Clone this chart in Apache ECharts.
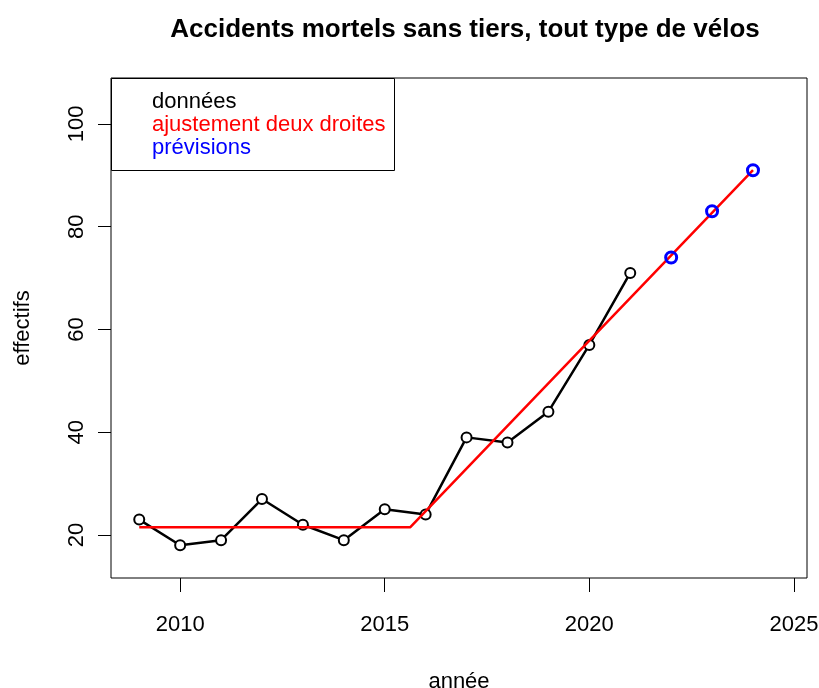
<!DOCTYPE html>
<html>
<head>
<meta charset="utf-8">
<script src="https://cdn.jsdelivr.net/npm/echarts@6/dist/echarts.min.js"></script>
<style>
  html, body { margin: 0; padding: 0; background: #fff; }
  #main { width: 819px; height: 688px; }
</style>
</head>
<body>
<div id="main"></div>
<script>
// observed data
var years = [2009, 2010, 2011, 2012, 2013, 2014, 2015, 2016, 2017, 2018, 2019, 2020, 2021];
var counts = [23, 18, 19, 27, 22, 19, 25, 24, 39, 38, 44, 57, 71];

// two-line fit (flat then rising)
var fitYears = [2009, 2015.62, 2024];
var fitValues = [21.5, 21.5, 91];

// forecasts
var forecastYears = [2022, 2023, 2024];
var forecastValues = [74, 83, 91];

var xTicks = [2010, 2015, 2020, 2025];
var yTicks = [20, 40, 60, 80, 100];

var font = '"Liberation Sans", Arial, sans-serif';

var chart = echarts.init(document.getElementById('main'));

var option = {
    animation: false,
    title: {
        text: 'Accidents mortels sans tiers, tout type de vélos',
        left: 460,
        top: 12,
        textAlign: 'center',
        textStyle: { fontFamily: font, fontSize: 26, fontWeight: 'bold', color: '#000' }
    },
    legend: {
        orient: 'vertical',
        left: 147,
        top: 90,
        icon: 'none',
        itemWidth: 0,
        itemHeight: 10,
        itemGap: 0,
        padding: 0,
        selectedMode: false,
        textStyle: { fontFamily: font, fontSize: 22, lineHeight: 23 },
        data: [
            { name: 'données', textStyle: { color: '#000' } },
            { name: 'ajustement deux droites', textStyle: { color: '#ff0000' } },
            { name: 'prévisions', textStyle: { color: '#0000ff' } }
        ]
    },
    graphic: [{
        type: 'rect',
        shape: { x: 111.5, y: 78.5, width: 283, height: 92 },
        style: { fill: '#fff', stroke: '#000', lineWidth: 1 },
        z: 1
    }],
    grid: {
        left: 111, right: 12, top: 78, bottom: 110,
        outerBoundsMode: 'none',
        containLabel: false,
        show: true, borderColor: '#000', borderWidth: 1, backgroundColor: '#fff'
    },
    xAxis: {
        type: 'value',
        min: 2008.31,
        max: 2025.32,
        name: 'année',
        nameLocation: 'middle',
        nameGap: 93,
        nameTextStyle: { fontFamily: font, fontSize: 22, color: '#000' },
        splitLine: { show: false },
        axisLine: { show: false },
        axisTick: { show: true, length: 14, customValues: xTicks, lineStyle: { color: '#000' } },
        axisLabel: {
            customValues: xTicks,
            margin: 36,
            fontFamily: font, fontSize: 22, color: '#000',
            formatter: function (v) { return String(v); }
        }
    },
    yAxis: {
        type: 'value',
        min: 11.63,
        max: 108.95,
        name: 'effectifs',
        nameLocation: 'middle',
        nameRotate: 90,
        nameGap: 77,
        nameTextStyle: { fontFamily: font, fontSize: 22, color: '#000' },
        splitLine: { show: false },
        axisLine: { show: false },
        axisTick: { show: true, length: 13, customValues: yTicks, lineStyle: { color: '#000' } },
        axisLabel: {
            customValues: yTicks,
            rotate: 90,
            margin: 23,
            fontFamily: font, fontSize: 22, color: '#000',
            formatter: function (v) { return String(v); }
        }
    },
    series: [
        {
            name: 'données',
            type: 'line',
            data: years.map(function (y, i) { return [y, counts[i]]; }),
            symbol: 'emptyCircle',
            symbolSize: 10,
            showAllSymbol: true,
            lineStyle: { color: '#000', width: 2.5 },
            itemStyle: { color: '#000', borderColor: '#222', borderWidth: 1 },
            z: 3
        },
        {
            name: 'ajustement deux droites',
            type: 'line',
            data: fitYears.map(function (y, i) { return [y, fitValues[i]]; }),
            symbol: 'none',
            lineStyle: { color: '#ff0000', width: 2.5 },
            itemStyle: { color: '#ff0000' },
            z: 4
        },
        {
            name: 'prévisions',
            type: 'scatter',
            data: forecastYears.map(function (y, i) { return [y, forecastValues[i]]; }),
            symbol: 'circle',
            symbolSize: 11,
            itemStyle: { color: 'rgba(0,0,0,0)', borderColor: '#0000ff', borderWidth: 3, opacity: 1 },
            z: 5
        }
    ]
};

chart.setOption(option);
</script>
</body>
</html>
